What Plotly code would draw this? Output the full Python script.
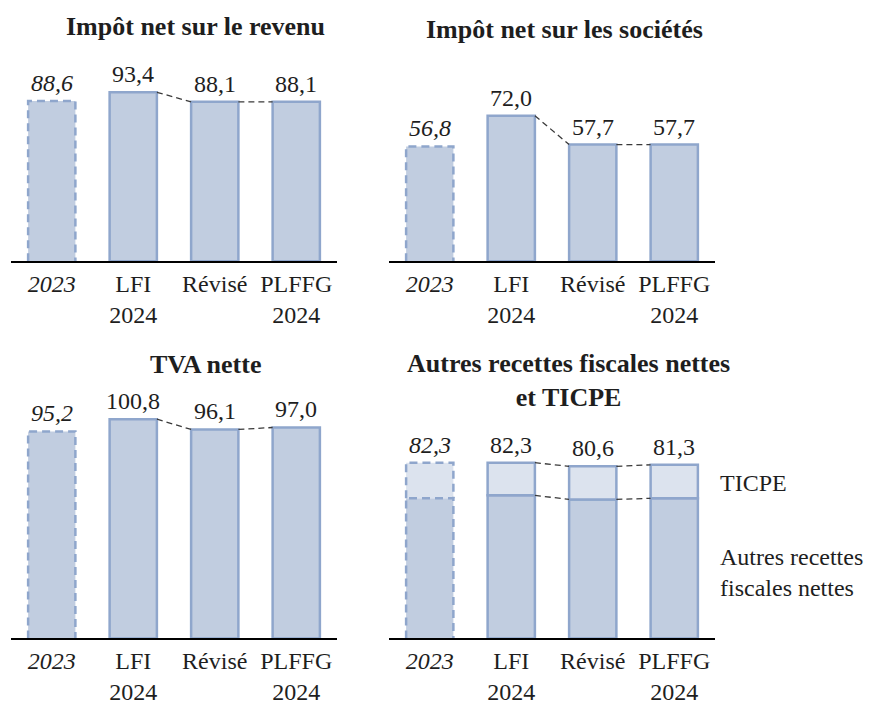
import plotly.graph_objects as go

W, H = 877, 705

categories = ["<i>2023</i>", "LFI<br>2024", "Révisé", "PLFFG<br>2024"]

impot_revenu = [88.6, 93.4, 88.1, 88.1]
impot_societes = [56.8, 72.0, 57.7, 57.7]
tva_nette = [95.2, 100.8, 96.1, 97.0]
autres_recettes = [65.6, 67.0, 65.1, 65.6]
ticpe = [16.7, 15.3, 15.5, 15.7]

FILL = "#C1CDE0"
FILL_LIGHT = "#DCE3EE"
EDGE = "#8FA6CC"
TXT = "#1e1e1e"
FONT = "Liberation Serif, Times New Roman, DejaVu Serif, serif"
BW = 0.58

fig = go.Figure()


def px_x(p):
    return p / W


def px_y(p):
    return 1 - p / H


# domaines en pixels et maximum de l'axe y pour chaque panneau
panels = [
    dict(x=(11, 337), y=(60, 263), ymax=111.5),
    dict(x=(389, 715), y=(60, 263), ymax=99.8),
    dict(x=(11, 337), y=(415, 643), ymax=104.1),
    dict(x=(389, 715), y=(415, 643), ymax=106.0),
]


def fmt(v):
    return f"{v:.1f}".replace(".", ",")


def add_bars(k, bottom, top, fill, show_labels):
    xa = "x" if k == 1 else f"x{k}"
    ya = "y" if k == 1 else f"y{k}"
    idx = list(range(len(categories)))
    heights = [t - b for t, b in zip(top, bottom)]
    fig.add_trace(go.Bar(
        x=idx, y=heights, base=bottom, width=BW, xaxis=xa, yaxis=ya,
        marker=dict(color=fill, line=dict(color=EDGE, width=[0, 2.5, 2.5, 2.5])),
        showlegend=False, hoverinfo="skip",
    ))
    # contour en pointillés pour 2023
    x0, x1 = -BW / 2, BW / 2
    fig.add_trace(go.Scatter(
        x=[x0, x0, x1, x1], y=[bottom[0], top[0], top[0], bottom[0]],
        mode="lines", line=dict(color=EDGE, width=2.5, dash="8px,5px"),
        xaxis=xa, yaxis=ya, showlegend=False, hoverinfo="skip",
    ))
    # liaisons pointillées LFI -> Révisé -> PLFFG
    for i in (1, 2):
        fig.add_trace(go.Scatter(
            x=[i + BW / 2, i + 1 - BW / 2], y=[top[i], top[i + 1]],
            mode="lines", line=dict(color="#3a3a3a", width=1.3, dash="6px,4px"),
            xaxis=xa, yaxis=ya, showlegend=False, hoverinfo="skip",
        ))
    if show_labels:
        for i, v in enumerate(top):
            lab = f"<i>{fmt(v)}</i>" if i == 0 else fmt(v)
            fig.add_annotation(
                x=i, y=v, xref=xa, yref=ya, text=lab, showarrow=False,
                xanchor="center", yanchor="bottom", yshift=3,
                font=dict(family=FONT, size=24, color=TXT),
            )


zeros = [0] * len(categories)
add_bars(1, zeros, impot_revenu, FILL, True)
add_bars(2, zeros, impot_societes, FILL, True)
add_bars(3, zeros, tva_nette, FILL, True)
add_bars(4, zeros, autres_recettes, FILL, False)
total = [round(a + t, 1) for a, t in zip(autres_recettes, ticpe)]
add_bars(4, autres_recettes, total, FILL_LIGHT, True)

layout = dict(
    width=W, height=H, margin=dict(l=0, r=0, t=0, b=0),
    paper_bgcolor="white", plot_bgcolor="white",
    font=dict(family=FONT, size=24, color=TXT),
    barmode="overlay",
)
for k, p in enumerate(panels, start=1):
    xk = "xaxis" if k == 1 else f"xaxis{k}"
    yk = "yaxis" if k == 1 else f"yaxis{k}"
    ya = "y" if k == 1 else f"y{k}"
    xa = "x" if k == 1 else f"x{k}"
    layout[xk] = dict(
        domain=[px_x(p["x"][0]), px_x(p["x"][1])], anchor=ya,
        range=[-0.5, 3.5], tickvals=[0, 1, 2, 3], ticktext=categories,
        showline=True, linecolor="black", linewidth=2, showgrid=False,
        zeroline=False, ticks="", tickfont=dict(family=FONT, size=24, color=TXT),
        fixedrange=True,
    )
    layout[yk] = dict(
        domain=[px_y(p["y"][1]), px_y(p["y"][0])], anchor=xa,
        range=[0, p["ymax"]], visible=False, fixedrange=True,
    )

fig.update_layout(**layout)

titles = [
    ("Impôt net sur le revenu", 195, 27),
    ("Impôt net sur les sociétés", 564, 30),
    ("TVA nette", 205, 367),
    ("Autres recettes fiscales nettes<br>et TICPE", 568, 383),
]
for text, x, y in titles:
    fig.add_annotation(
        text=f"<b>{text}</b>", x=px_x(x), y=px_y(y), xref="paper", yref="paper",
        showarrow=False, xanchor="center", yanchor="middle",
        font=dict(family=FONT, size=26, color=TXT),
    )

fig.add_annotation(text="TICPE", x=px_x(718), y=px_y(486), xref="paper", yref="paper",
                   showarrow=False, xanchor="left", yanchor="middle", align="left",
                   font=dict(family=FONT, size=24, color=TXT))
fig.add_annotation(text="Autres recettes<br>fiscales nettes", x=px_x(718), y=px_y(577),
                   xref="paper", yref="paper", showarrow=False, xanchor="left",
                   yanchor="middle", align="left",
                   font=dict(family=FONT, size=24, color=TXT))

fig.write_html("out.html", config={"displayModeBar": False},
               post_script="document.body.style.margin='0';")
